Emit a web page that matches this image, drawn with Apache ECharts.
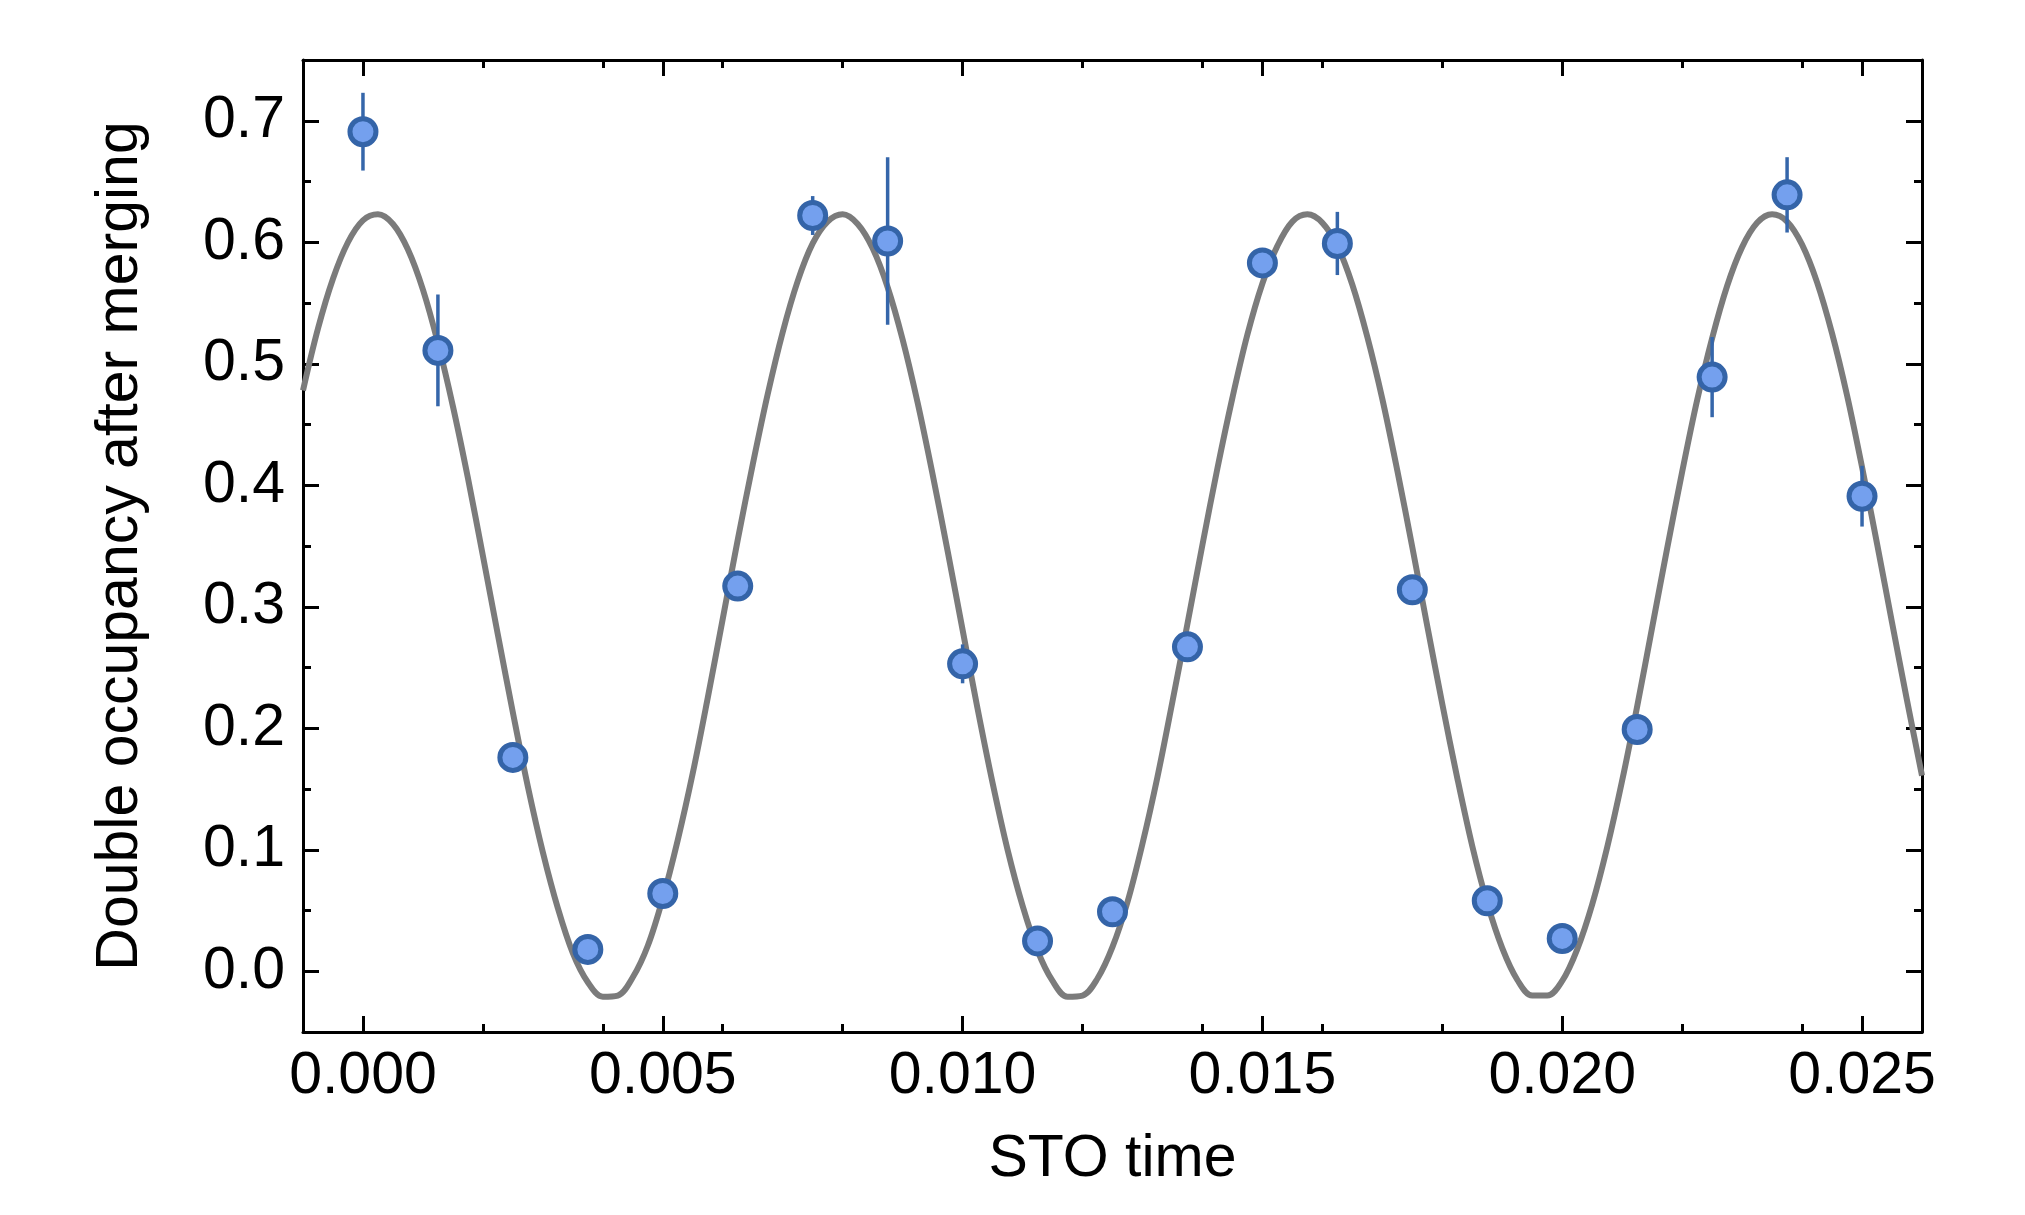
<!DOCTYPE html>
<html>
<head>
<meta charset="utf-8">
<script src="https://cdn.jsdelivr.net/npm/echarts@6/dist/echarts.min.js"></script>
<style>
  html, body { margin: 0; padding: 0; background: #fff; }
  #chart { width: 2025px; height: 1215px; }
</style>
</head>
<body>
<div id="chart"></div>
<script>
// measured points (STO time, double occupancy, error)
var stoTime = [0, 0.00125, 0.0025, 0.00375, 0.005, 0.00625, 0.0075, 0.00875, 0.01, 0.01125, 0.0125,
  0.01375, 0.015, 0.01625, 0.0175, 0.01875, 0.02, 0.02125, 0.0225, 0.02375, 0.025];
var occupancy = [0.691, 0.511, 0.176, 0.018, 0.064, 0.317, 0.622, 0.601, 0.253, 0.025, 0.049,
  0.267, 0.583, 0.599, 0.314, 0.058, 0.027, 0.199, 0.489, 0.639, 0.391];
var errors = [0.032, 0.046, 0.008, 0.008, 0.008, 0.008, 0.016, 0.069, 0.016, 0.008, 0.008,
  0.008, 0.008, 0.026, 0.010, 0.008, 0.008, 0.008, 0.033, 0.031, 0.025];

// fit curve
var fitTime = [
  -0.001, -0.00075, -0.0005, -0.00025, 0, 0.00025, 0.0005, 0.00075, 0.001, 0.00125,
  0.0015, 0.00175, 0.002, 0.00225, 0.0025, 0.00275, 0.003, 0.00325, 0.0035, 0.00375,
  0.004, 0.00425, 0.0045, 0.00475, 0.005, 0.00525, 0.0055, 0.00575, 0.006, 0.00625,
  0.0065, 0.00675, 0.007, 0.00725, 0.0075, 0.00775, 0.008, 0.00825, 0.0085, 0.00875,
  0.009, 0.00925, 0.0095, 0.00975, 0.01, 0.01025, 0.0105, 0.01075, 0.011, 0.01125,
  0.0115, 0.01175, 0.012, 0.01225, 0.0125, 0.01275, 0.013, 0.01325, 0.0135, 0.01375,
  0.014, 0.01425, 0.0145, 0.01475, 0.015, 0.01525, 0.0155, 0.01575, 0.016, 0.01625,
  0.0165, 0.01675, 0.017, 0.01725, 0.0175, 0.01775, 0.018, 0.01825, 0.0185, 0.01875,
  0.019, 0.01925, 0.0195, 0.01975, 0.02, 0.02025, 0.0205, 0.02075, 0.021, 0.02125,
  0.0215, 0.02175, 0.022, 0.02225, 0.0225, 0.02275, 0.023, 0.02325, 0.0235, 0.02375,
  0.024, 0.02425, 0.0245, 0.02475, 0.025, 0.02525, 0.0255, 0.02575, 0.026];
var fitValue = [
  0.478, 0.529, 0.570, 0.600, 0.618, 0.623, 0.615, 0.594, 0.561, 0.517,
  0.465, 0.406, 0.342, 0.277, 0.213, 0.152, 0.098, 0.052, 0.015, -0.009,
  -0.021, -0.020, -0.005, 0.021, 0.060, 0.108, 0.163, 0.225, 0.290, 0.355,
  0.417, 0.475, 0.526, 0.568, 0.599, 0.617, 0.623, 0.615, 0.595, 0.563,
  0.520, 0.468, 0.409, 0.346, 0.281, 0.216, 0.155, 0.100, 0.054, 0.017,
  -0.008, -0.021, -0.020, -0.006, 0.020, 0.057, 0.105, 0.160, 0.222, 0.286,
  0.351, 0.414, 0.472, 0.524, 0.566, 0.597, 0.617, 0.623, 0.616, 0.597,
  0.565, 0.522, 0.471, 0.412, 0.349, 0.284, 0.220, 0.159, 0.103, 0.056,
  0.019, -0.007, -0.020, -0.020, -0.008, 0.018, 0.055, 0.102, 0.157, 0.218,
  0.283, 0.348, 0.411, 0.470, 0.521, 0.564, 0.596, 0.616, 0.623, 0.617,
  0.598, 0.567, 0.525, 0.474, 0.415, 0.352, 0.287, 0.223, 0.161];

// ticks
var xMajor = [0, 0.005, 0.01, 0.015, 0.02, 0.025];
var xMinor = [0.002, 0.004, 0.006, 0.008, 0.012, 0.014, 0.016, 0.018, 0.022, 0.024];
var yMajor = [0, 0.1, 0.2, 0.3, 0.4, 0.5, 0.6, 0.7];
var yMinor = [0.05, 0.15, 0.25, 0.35, 0.45, 0.55, 0.65];

var FONT = 'Liberation Sans, Arial, Helvetica, sans-serif';
var FS = 59;
var points = stoTime.map(function (t, i) { return [t, occupancy[i], errors[i]]; });
var fit = fitTime.map(function (t, i) { return [t, fitValue[i]]; });

function xAx(grid, pos, ticks, len, labels) {
  return {
    type: 'value', gridIndex: grid, position: pos, min: -0.001, max: 0.026,
    splitLine: { show: false },
    axisLine: { show: grid === 0, onZero: false, lineStyle: { color: '#000', width: 3 } },
    axisTick: { show: true, inside: true, length: len, customValues: ticks, lineStyle: { color: '#000', width: 3 } },
    axisLabel: labels ? {
      show: true, customValues: ticks, margin: 15, color: '#000', fontSize: FS, fontFamily: FONT,
      formatter: function (v) { return v.toFixed(3); }
    } : { show: false },
    name: labels ? 'STO time' : '', nameLocation: 'middle', nameGap: 98,
    nameTextStyle: { color: '#000', fontSize: FS, fontFamily: FONT }
  };
}
function yAx(grid, pos, ticks, len, labels) {
  return {
    type: 'value', gridIndex: grid, position: pos, min: -0.05, max: 0.75,
    splitLine: { show: false },
    axisLine: { show: grid === 0, onZero: false, lineStyle: { color: '#000', width: 3 } },
    axisTick: { show: true, inside: true, length: len, customValues: ticks, lineStyle: { color: '#000', width: 3 } },
    axisLabel: labels ? {
      show: true, customValues: ticks, margin: 18, color: '#000', fontSize: FS, fontFamily: FONT,
      formatter: function (v) { return v.toFixed(1); }
    } : { show: false },
    name: labels ? 'Double occupancy after merging' : '', nameLocation: 'middle', nameGap: 153,
    nameTextStyle: { color: '#000', fontSize: FS, fontFamily: FONT }
  };
}

var gridPos = { left: 303, right: 103, top: 60, bottom: 183 };
var chart = echarts.init(document.getElementById('chart'));
var option = {
  animation: false,
  backgroundColor: '#fff',
  grid: [Object.assign({}, gridPos), Object.assign({}, gridPos)],
  xAxis: [
    xAx(0, 'bottom', xMajor, 16, true),
    xAx(0, 'top', xMajor, 16, false),
    xAx(1, 'bottom', xMinor, 8, false),
    xAx(1, 'top', xMinor, 8, false)
  ],
  yAxis: [
    yAx(0, 'left', yMajor, 16, true),
    yAx(0, 'right', yMajor, 16, false),
    yAx(1, 'left', yMinor, 8, false),
    yAx(1, 'right', yMinor, 8, false)
  ],
  series: [
    {
      type: 'line', xAxisIndex: 0, yAxisIndex: 0, data: fit, smooth: 0.35,
      showSymbol: false, lineStyle: { color: '#7b7b7b', width: 6, join: 'round' }, z: 2
    },
    {
      type: 'custom', xAxisIndex: 0, yAxisIndex: 0, data: points, z: 3,
      renderItem: function (params, api) {
        var x = api.value(0), y = api.value(1), e = api.value(2);
        var p1 = api.coord([x, y - e]), p2 = api.coord([x, y + e]);
        return {
          type: 'line',
          shape: { x1: p1[0], y1: p1[1], x2: p2[0], y2: p2[1] },
          style: { stroke: '#3566aa', lineWidth: 3.5 }
        };
      }
    },
    {
      type: 'scatter', xAxisIndex: 0, yAxisIndex: 0, data: points, symbolSize: 26, z: 4,
      itemStyle: { color: '#74a0ee', borderColor: '#3464a8', borderWidth: 5, opacity: 1 }
    }
  ]
};
chart.setOption(option);
</script>
</body>
</html>
